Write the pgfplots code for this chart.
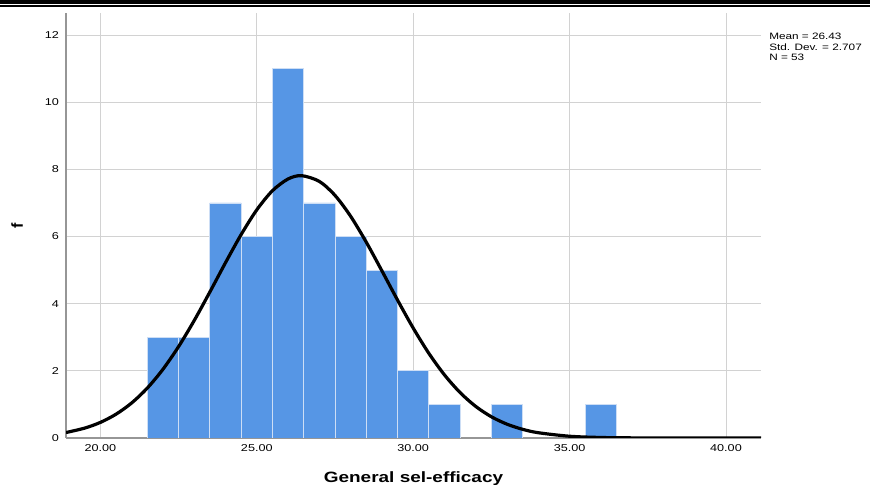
\documentclass[border=0pt]{standalone}
\usepackage{pgfplots}
\pgfplotsset{compat=1.18}
\usepackage{fontspec}
\setmainfont{Liberation Sans}
\definecolor{barblue}{RGB}{86,150,229}
\definecolor{baredge}{RGB}{205,222,245}
\definecolor{gridgray}{RGB}{210,210,210}
\definecolor{axisgray}{RGB}{150,150,150}
\begin{document}
\begin{tikzpicture}[x=1bp,y=1bp]
\useasboundingbox (0,0) rectangle (870,485);
\begin{axis}[
  at={(66bp,47bp)}, anchor=south west,
  scale only axis, width=695bp, height=425bp,
  xmin=18.9, xmax=41.12, ymin=0, ymax=12.655,
  axis x line=bottom, axis y line=left,
  axis line style={axisgray, line width=1.2bp, -},
  xtick={20,25,30,35,40}, ytick={0,2,4,6,8,10,12},
  grid=major, grid style={gridgray, line width=0.9bp},
  major tick length=0pt,
  /pgf/number format/assume math mode=true,
  xticklabel={\pgfmathprintnumber[fixed,fixed zerofill,precision=2]{\tick}},
  xticklabel style={font=\fontsize{10}{11}\selectfont, xscale=1.27, yshift=-3bp},
  yticklabel style={font=\fontsize{10}{11}\selectfont, xscale=1.27, xshift=-2bp},
  xlabel={General sel-efficacy},
  xlabel style={at={(axis description cs:0.5,0)}, anchor=base, yshift=-45bp,
    font=\fontsize{15}{16}\selectfont\bfseries, xscale=1.27},
  ylabel={f},
  ylabel style={at={(axis description cs:-0.0705,0.5)}, anchor=center,
    font=\fontsize{16}{17}\selectfont\bfseries},
]
\addplot[ybar, bar width=1, bar shift=0pt, fill=barblue, draw=baredge, line width=0.8bp]
  coordinates {(22,3) (23,3) (24,7) (25,6) (26,11) (27,7) (28,6) (29,5) (30,2) (31,1) (33,1) (36,1)};
\addplot[black, line width=3.2bp, smooth] coordinates {
 (18.9,0.163) (19.5,0.295) (20,0.465) (20.5,0.709) (21,1.044) (21.5,1.487)
 (22,2.047) (22.5,2.723) (23,3.500) (23.5,4.348) (24,5.221) (24.5,6.058)
 (25,6.794) (25.5,7.363) (26,7.713) (26.43,7.811) (27,7.640) (27.5,7.224)
 (28,6.602) (28.5,5.831) (29,4.977) (29.5,4.106) (30,3.274) (30.5,2.522)
 (31,1.879) (31.5,1.352) (32,0.940) (32.5,0.632) (33,0.411) (33.5,0.258)
 (34,0.157) (35,0.052) (36,0.015) (37,0.004) (38,0.001) (39,0.0) (41.12,0.0)};
\end{axis}
\fill[black] (0,481) rectangle (870,484.5);
\fill[black] (0,478) rectangle (870,479.6);
\node[anchor=north west, inner sep=0pt, align=left, xscale=1.27,
  font=\fontsize{9.3}{10.5}\selectfont] at (769,452)
  {Mean = 26.43\\Std. Dev. = 2.707\\N = 53};
\end{tikzpicture}
\end{document}
